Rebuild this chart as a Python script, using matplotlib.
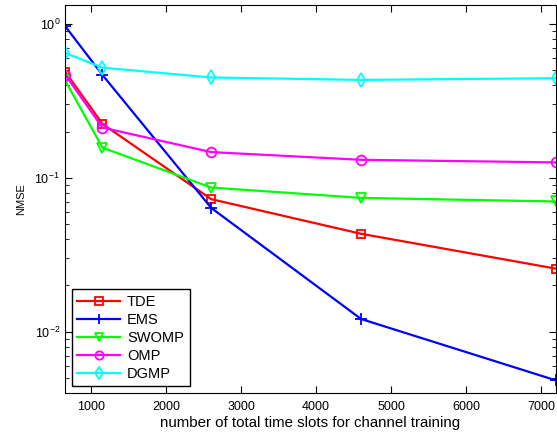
import matplotlib
matplotlib.use("Agg")
import matplotlib.pyplot as plt
from matplotlib.ticker import LogLocator, NullFormatter

plt.rcParams['font.family'] = ['Liberation Sans', 'DejaVu Sans']
plt.rcParams['mathtext.fontset'] = 'custom'
plt.rcParams['mathtext.rm'] = 'Liberation Sans'

# data
slots = [650, 1150, 2600, 4600, 7200]
tde = [0.49, 0.224, 0.0727, 0.0433, 0.0257]
ems = [0.97, 0.466, 0.0638, 0.0121, 0.00483]
swomp = [0.43, 0.157, 0.0865, 0.0741, 0.0702]
omp = [0.469, 0.212, 0.147, 0.131, 0.126]
dgmp = [0.648, 0.52, 0.449, 0.433, 0.444]

labels = ["TDE", "EMS", "SWOMP", "OMP", "DGMP"]
series = [tde, ems, swomp, omp, dgmp]
colors = ["#ff0000", "#0000ff", "#00ff00", "#ff00ff", "#00ffff"]
markers = ["s", "+", "v", "o", "d"]
msizes = [6, 8, 7.5, 7, 7]

fig = plt.figure(figsize=(5.57, 4.36), dpi=100)
ax = fig.add_axes([0.1167, 0.0986, 0.8815, 0.8899])

for y, lab, c, m, ms in zip(series, labels, colors, markers, msizes):
    ax.plot(slots, y, color=c, marker=m, markersize=ms, markerfacecolor='none',
            markeredgecolor=c, markeredgewidth=1.3, linewidth=1.6, label=lab)

ax.set_yscale('log')
ax.set_xlim(650, 7200)
ax.set_ylim(10 ** -2.398, 10 ** 0.123)
ax.set_xticks([1000, 2000, 3000, 4000, 5000, 6000, 7000])
ax.yaxis.set_major_locator(LogLocator(base=10))
ax.yaxis.set_minor_locator(LogLocator(base=10, subs=range(2, 10)))
ax.yaxis.set_minor_formatter(NullFormatter())
ax.tick_params(which='both', direction='in', top=True, right=True, labelsize=9)
ax.tick_params(which='major', length=5)
ax.tick_params(which='minor', length=3)
ax.tick_params(axis='x', pad=6)

ax.set_xlabel("number of total time slots for channel training", fontsize=10.8, labelpad=2)
ax.set_ylabel("NMSE", fontsize=8, labelpad=6)

leg = ax.legend(loc='lower left', fontsize=10.5, fancybox=False, framealpha=1,
                edgecolor='black', handlelength=2.9, borderaxespad=0.45,
                labelspacing=0.27, handletextpad=0.5, markerscale=0.85)
leg.get_frame().set_linewidth(1)

fig.savefig("out.png", dpi=100)
